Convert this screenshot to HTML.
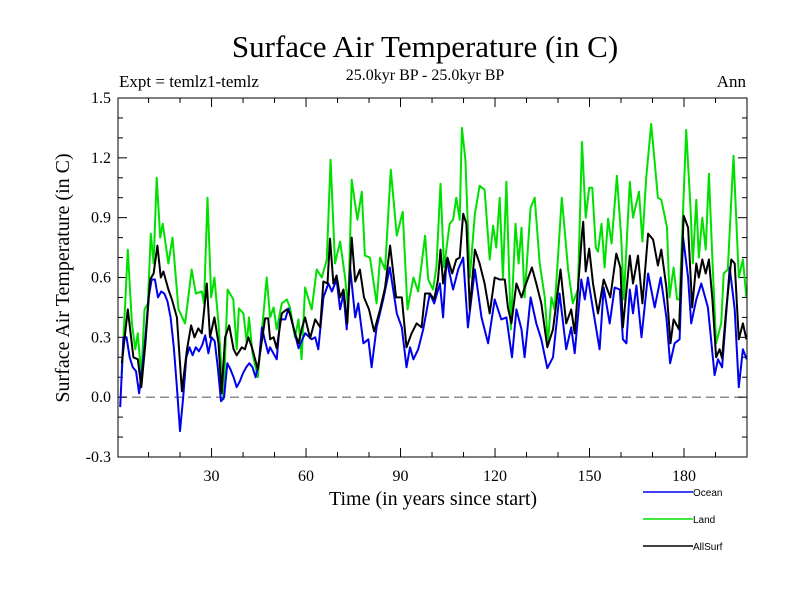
<!DOCTYPE html>
<html><head><meta charset="utf-8"><style>
body{margin:0;background:#fff;}
svg{display:block;font-family:"Liberation Serif",serif;}
</style></head><body>
<svg id="chart" width="800" height="600" viewBox="0 0 800 600">
<text x="425" y="57" font-size="31" text-anchor="middle">Surface Air Temperature (in C)</text>
<text x="425" y="80" font-size="16" text-anchor="middle">25.0kyr BP - 25.0kyr BP</text>
<text x="119" y="87" font-size="17">Expt = temlz1-temlz</text>
<text x="746" y="87" font-size="17" text-anchor="end">Ann</text>
<text x="433" y="505" font-size="20" text-anchor="middle">Time (in years since start)</text>
<text transform="translate(69,278) rotate(-90)" font-size="20" text-anchor="middle">Surface Air Temperature (in C)</text>
<g id="axes"></g>
<g id="series"></g>
<rect x="118" y="98" width="629" height="359" fill="none" stroke="#000" stroke-width="1"/>
<g id="legend" font-family="Liberation Sans, sans-serif" font-size="10"></g>
</svg>
<script>
const xTicks=[30,60,90,120,150,180];
const yTicks=[-0.3,0,0.3,0.6,0.9,1.2,1.5];
const yTickLabels=["-0.3","0.0","0.3","0.6","0.9","1.2","1.5"];
const seriesNames=["Ocean","Land","AllSurf"];
const oceanYears=[1,2,3,4,5,6,7,8,9,10,11,12,13,14,15,16,17,18,19,20,21,22,23,24,25,26,27,28,29,30,31,32,33,34,35,36,37,38,39,40,41,42,43,44,45,46,47,48,48.6,50.7,51.8,53.4,54.4,56.0,57.6,59.7,61.8,62.9,63.9,65.5,67.1,68.2,69.7,70.8,71.9,72.9,74.0,75.6,76.6,78.2,79.8,80.8,82.4,84.5,86.6,88.8,90.4,91.9,93.0,94.1,95.6,97.2,99.3,100.7,102.5,103.5,104.6,106.7,108.3,109.9,111.4,113.6,115.7,117.8,119.9,122.0,123.6,125.4,126.8,128.4,129.4,131.3,133.1,134.7,136.6,138.4,140.5,142.6,144.2,145.3,147.4,148.5,149.5,151.1,153.2,154.5,156.4,158.0,159.6,160.6,161.7,162.8,163.8,164.9,166.5,168.6,170.7,172.6,174.4,175.6,177.0,178.6,179.7,181.3,182.3,183.9,185.5,187.6,189.7,190.8,192.1,194.5,196.1,197.4,198.7,199.9];
const oceanValues=[-0.05,0.30,0.30,0.20,0.15,0.13,0.02,0.15,0.30,0.50,0.59,0.59,0.50,0.53,0.52,0.48,0.40,0.25,0.05,-0.17,0.0,0.20,0.25,0.21,0.25,0.23,0.26,0.31,0.22,0.30,0.28,0.15,-0.02,0.0,0.17,0.14,0.10,0.05,0.08,0.12,0.15,0.17,0.15,0.10,0.17,0.35,0.28,0.22,0.25,0.19,0.39,0.39,0.445,0.35,0.245,0.32,0.29,0.30,0.24,0.50,0.57,0.53,0.59,0.44,0.52,0.34,0.65,0.40,0.47,0.27,0.29,0.15,0.35,0.49,0.65,0.42,0.35,0.15,0.25,0.19,0.24,0.34,0.52,0.47,0.57,0.40,0.69,0.54,0.64,0.70,0.35,0.64,0.40,0.27,0.49,0.39,0.40,0.20,0.44,0.34,0.20,0.50,0.37,0.29,0.145,0.20,0.52,0.24,0.35,0.22,0.59,0.49,0.60,0.44,0.24,0.55,0.37,0.55,0.54,0.29,0.27,0.54,0.42,0.56,0.30,0.62,0.45,0.60,0.40,0.17,0.27,0.29,0.80,0.60,0.37,0.49,0.57,0.45,0.11,0.19,0.15,0.65,0.44,0.05,0.24,0.19];
const landYears=[1.5,3.4,4.7,5.8,6.6,7.7,8.7,9.8,10.7,11.6,12.6,13.7,14.5,16.3,17.6,19.5,21.6,23.7,25.0,26.9,27.6,28.7,29.9,30.9,32.2,33.8,35.1,36.9,38.0,38.7,40.1,41.2,41.9,43.0,44.7,47.5,48.6,49.7,50.7,52.3,53.9,54.9,56.5,57.6,58.6,59.7,60.8,61.8,63.4,65.0,66.6,67.8,69.2,70.8,72.4,73.4,74.5,76.3,77.7,78.7,80.3,82.4,83.5,85.1,86.9,88.8,90.7,92.2,94.1,95.6,97.8,98.8,100.3,101.4,102.7,103.8,105.6,106.7,107.7,108.8,109.5,110.6,112.0,113.6,115.1,116.7,118.3,119.4,120.4,121.5,122.5,123.6,125.0,126.5,127.5,128.4,129.4,131.3,132.6,134.2,135.8,136.8,137.9,138.9,141.2,143.2,144.7,146.3,147.6,148.8,149.9,150.9,152.0,152.7,153.8,154.8,155.9,157.0,158.7,160.1,160.9,162.8,163.8,165.7,166.8,168.0,169.6,171.7,172.8,174.6,175.4,176.7,177.8,178.6,180.7,182.1,182.8,183.9,184.7,185.8,186.9,187.9,189.0,190.2,191.8,192.6,193.9,195.7,197.4,198.7,199.8];
const landValues=[0.12,0.74,0.37,0.24,0.32,0.10,0.44,0.47,0.82,0.67,1.10,0.80,0.87,0.67,0.80,0.44,0.37,0.64,0.52,0.53,0.47,1.00,0.50,0.60,0.37,-0.01,0.54,0.49,0.24,0.445,0.42,0.27,0.40,0.22,0.10,0.60,0.40,0.45,0.34,0.47,0.49,0.45,0.30,0.39,0.19,0.55,0.49,0.44,0.64,0.60,0.69,1.19,0.67,0.78,0.60,0.44,1.09,0.89,1.03,0.71,0.70,0.47,0.70,0.64,1.14,0.81,0.93,0.44,0.60,0.53,0.81,0.59,0.54,0.65,1.07,0.65,0.87,0.89,1.00,0.89,1.35,1.19,0.60,0.92,1.06,1.04,0.69,0.86,0.75,1.00,0.60,1.08,0.34,0.87,0.67,0.85,0.50,0.95,1.00,0.67,0.50,0.27,0.50,0.44,1.00,0.64,0.47,0.54,1.28,0.90,1.05,1.05,0.75,0.73,0.87,0.65,0.895,0.77,1.11,0.79,0.49,1.08,0.90,1.03,0.78,1.10,1.37,1.00,0.99,0.85,0.50,0.65,0.49,0.49,1.34,0.94,0.67,0.99,0.70,0.90,0.74,1.12,0.69,0.27,0.37,0.62,0.64,1.21,0.60,0.69,0.50];
const allYears=[1.5,3.4,5.2,6.6,7.7,9.0,10.5,11.6,12.8,13.9,14.7,16.3,17.4,19.0,20.6,22.2,23.5,24.6,25.8,26.9,28.5,29.5,30.9,32.2,33.2,34.3,35.6,37.0,38.0,39.6,40.6,41.7,42.8,44.7,47.0,48.0,48.6,49.7,50.7,52.3,53.9,54.9,56.5,57.6,58.6,59.7,61.3,62.9,64.5,65.5,66.8,67.6,68.7,69.7,70.8,71.9,73.1,74.5,75.6,77.1,78.4,80.0,81.6,83.5,85.1,86.7,88.6,90.4,91.9,93.5,95.1,96.7,97.8,99.3,100.7,101.9,102.7,103.5,104.9,106.4,107.7,108.8,109.9,110.9,112.0,113.6,115.1,116.7,118.3,119.9,121.5,123.1,124.1,125.2,126.8,128.4,129.4,131.7,133.1,134.7,136.6,138.4,140.8,142.6,144.2,145.3,147.6,148.0,148.8,149.9,151.1,152.7,154.5,156.6,158.5,159.8,160.6,162.8,163.8,165.4,166.8,168.6,170.2,171.7,172.8,174.4,175.7,176.7,178.4,179.9,181.3,182.6,183.9,184.7,185.8,186.9,187.9,189.0,190.2,191.3,192.1,193.4,195.0,196.1,197.4,198.7,199.8];
const allValues=[0.17,0.44,0.20,0.19,0.05,0.27,0.59,0.62,0.76,0.60,0.63,0.54,0.49,0.40,0.03,0.24,0.36,0.30,0.345,0.32,0.57,0.30,0.40,0.27,0.02,0.30,0.36,0.24,0.21,0.25,0.24,0.30,0.25,0.14,0.395,0.395,0.29,0.30,0.245,0.42,0.44,0.42,0.32,0.27,0.34,0.40,0.295,0.39,0.35,0.58,0.57,0.795,0.57,0.61,0.50,0.54,0.37,0.80,0.58,0.64,0.50,0.44,0.33,0.44,0.55,0.76,0.50,0.50,0.25,0.32,0.37,0.35,0.52,0.52,0.49,0.59,0.74,0.57,0.70,0.62,0.69,0.70,0.92,0.87,0.44,0.74,0.67,0.57,0.42,0.60,0.59,0.59,0.45,0.37,0.57,0.50,0.55,0.65,0.57,0.47,0.25,0.34,0.64,0.37,0.44,0.32,0.82,0.88,0.63,0.745,0.57,0.42,0.59,0.50,0.72,0.65,0.35,0.71,0.57,0.71,0.47,0.82,0.79,0.66,0.74,0.55,0.27,0.39,0.34,0.91,0.85,0.45,0.67,0.60,0.69,0.62,0.69,0.49,0.20,0.24,0.195,0.44,0.69,0.67,0.29,0.37,0.29];

const NS="http://www.w3.org/2000/svg";
const X0=118,X1=747,Y0=98,Y1=457,XMIN=0.3,XMAX=200,YMIN=-0.3,YMAX=1.5;
function sx(t){return X0+(t-XMIN)*(X1-X0)/(XMAX-XMIN);}
function sy(v){return Y1-(v-YMIN)*(Y1-Y0)/(YMAX-YMIN);}
function mk(tag,attrs,parent){const e=document.createElementNS(NS,tag);for(const k in attrs)e.setAttribute(k,attrs[k]);parent.appendChild(e);return e;}
const axes=document.getElementById('axes');
// zero line
const zl=mk('line',{x1:X0,x2:X1,y1:sy(0),y2:sy(0),stroke:'#666','stroke-width':1.2,'stroke-dasharray':'9,5'},axes);


// x ticks
for(let t=10;t<=200;t+=10){
  const major=t%30===0,len=major?9:5;
  mk('line',{x1:sx(t),x2:sx(t),y1:Y1,y2:Y1-len,stroke:'#000'},axes);
  mk('line',{x1:sx(t),x2:sx(t),y1:Y0,y2:Y0+len,stroke:'#000'},axes);
}
xTicks.forEach(t=>{
  const tx=mk('text',{x:sx(t),y:Y1+24,'font-size':16,'text-anchor':'middle'},axes);
  tx.textContent=t;
  
  
});
// y ticks
for(let i=-3;i<=15;i++){
  const v=i/10,major=(i%3===0),len=major?9:5;
  mk('line',{x1:X0,x2:X0+len,y1:sy(v),y2:sy(v),stroke:'#000'},axes);
  mk('line',{x1:X1,x2:X1-len,y1:sy(v),y2:sy(v),stroke:'#000'},axes);
}
yTicks.forEach((v,i)=>{
  const tx=mk('text',{x:X0-7,y:sy(v)+5,'font-size':16,'text-anchor':'end'},axes);
  tx.textContent=yTickLabels[i];
  
  
});
const sg=document.getElementById('series');
const defs=[[landYears,landValues,'#00e000','land-line'],[oceanYears,oceanValues,'#0000ee','ocean-line'],[allYears,allValues,'#000','allsurf-line']];
defs.forEach(d=>{
  const pts=d[0].map((t,i)=>sx(t).toFixed(1)+','+sy(d[1][i]).toFixed(1)).join(' ');
  const pl=mk('polyline',{points:pts,fill:'none',stroke:d[2],'stroke-width':2,'stroke-linejoin':'round'},sg);
  
  
});
const lg=document.getElementById('legend');
const lcol=['#0000ee','#00e000','#000'];
seriesNames.forEach((n,i)=>{
  const y=492+i*27;
  const ln=mk('line',{x1:643,x2:693,y1:y,y2:y,stroke:lcol[i],'stroke-width':1.5},lg);
  
  
  const tx=mk('text',{x:693,y:y+4},lg);
  tx.textContent=n;
  
  
});
</script>
</body></html>
